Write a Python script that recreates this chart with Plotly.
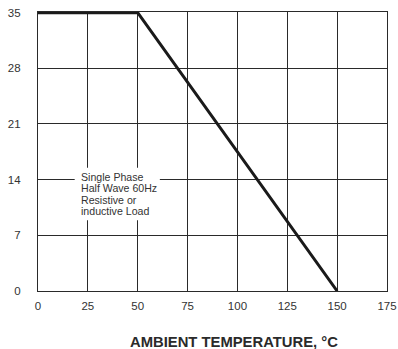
import plotly.graph_objects as go

temp = [0, 50, 150]
current = [35, 35, 0]
x_ticks = [0, 25, 50, 75, 100, 125, 150, 175]
y_ticks = [0, 7, 14, 21, 28, 35]
note_lines = ["Single Phase", "Half Wave 60Hz", "Resistive or", "inductive Load"]
x_title = "AMBIENT TEMPERATURE, °C"

FONT = "Liberation Sans, Arial, sans-serif"
GRID = "#2a2a2a"

fig = go.Figure()
fig.add_trace(go.Scatter(x=temp, y=current, mode="lines",
                         line=dict(color="#1a1a1a", width=3), showlegend=False,
                         hoverinfo="skip"))

fig.update_layout(
    width=398, height=349,
    margin=dict(l=38, r=11, t=12, b=58),
    paper_bgcolor="white", plot_bgcolor="white",
    font=dict(family=FONT, size=12, color="#333333"),
    xaxis=dict(range=[0, 175], tickvals=x_ticks, showgrid=True, gridcolor=GRID,
               gridwidth=1.3, showline=True, linecolor=GRID, linewidth=1.3,
               mirror=True, zeroline=False, ticks="", ticklabelstandoff=4,
               tickfont=dict(size=11.5), automargin=False),
    yaxis=dict(range=[0, 35.08], tickvals=y_ticks, showgrid=True, gridcolor=GRID,
               gridwidth=1.3, showline=True, linecolor=GRID, linewidth=1.3,
               mirror=True, zeroline=False, ticks="", ticklabelstandoff=14,
               tickfont=dict(size=11.5), automargin=False),
)

fig.add_shape(type="rect", xref="x", yref="y", x0=18.4, x1=61.1, y0=8.9, y1=15.5,
              fillcolor="white", line=dict(width=0), layer="above")

note_y = [14.35, 12.92, 11.49, 10.06]
for txt, yy in zip(note_lines, note_y):
    fig.add_annotation(x=21.3, y=yy, xref="x", yref="y", text=txt, showarrow=False,
                       xanchor="left", yanchor="middle", borderpad=0,
                       font=dict(size=10.6, color="#333333", family=FONT))

fig.add_annotation(x=0.562, y=-0.184, xref="paper", yref="paper", text="<b>" + x_title + "</b>",
                   showarrow=False, xanchor="center", yanchor="middle",
                   font=dict(size=14.8, color="#2a2a2a", family=FONT))

fig.write_html("out.html")
